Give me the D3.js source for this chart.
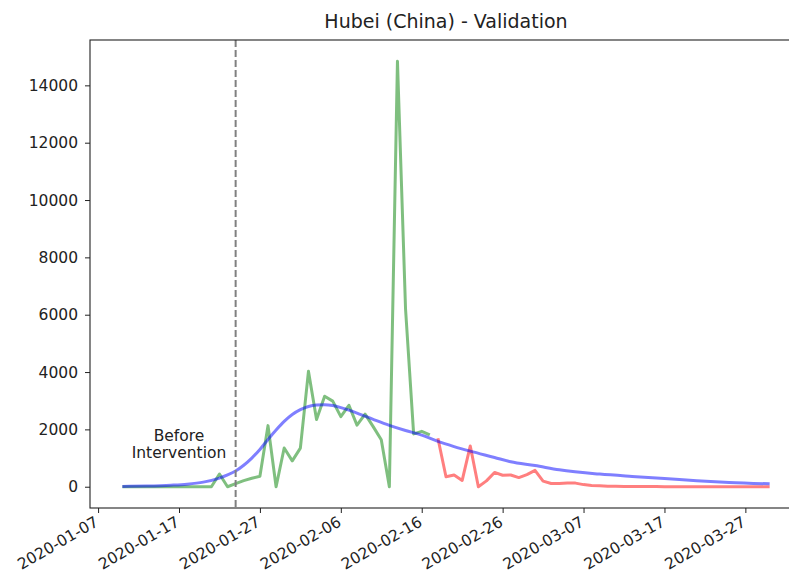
<!DOCTYPE html>
<html>
<head>
<meta charset="utf-8">
<script src="https://cdn.jsdelivr.net/npm/d3@7"></script>
<style>
  body { margin: 0; background: #fff; }
  text { font-family: "DejaVu Sans", sans-serif; fill: #222; }
</style>
</head>
<body>
<div id="chart"></div>
<script>
// Hubei daily new cases, training part (green) and validation part (red)
var trainStart = "2020-01-10";
var trainCases = [0, 0, 0, 0, 0, 0, 0, 0, 0, 0, 0, 0,
  444, 0, 105, 212, 297, 365, 2131, 0, 1349, 903, 1347, 4024, 2345, 3156,
  2987, 2447, 2841, 2147, 2531, 2097, 1638, 0, 14840, 6200, 1843, 1933, 1807];

var validStart = "2020-02-18";
var validCases = [1693, 349, 411, 220, 1422, 0, 203, 499, 401, 409, 318, 423,
  570, 196, 114, 115, 134, 126, 74, 41, 36, 17, 13, 8, 5, 4, 4, 4, 1, 1,
  0, 0, 0, 0, 0, 0, 1, 0, 0, 0, 0, 0];

// model curve (blue)
var modelDates = ["2020-01-10", "2020-01-13", "2020-01-16", "2020-01-18", "2020-01-20",
  "2020-01-22", "2020-01-23", "2020-01-24", "2020-01-25", "2020-01-26", "2020-01-27",
  "2020-01-28", "2020-01-29", "2020-01-30", "2020-01-31", "2020-02-01", "2020-02-02",
  "2020-02-03", "2020-02-04", "2020-02-05", "2020-02-06", "2020-02-07", "2020-02-08",
  "2020-02-10", "2020-02-12", "2020-02-14", "2020-02-16", "2020-02-18", "2020-02-20",
  "2020-02-22", "2020-02-25", "2020-02-27", "2020-03-01", "2020-03-04", "2020-03-09",
  "2020-03-13", "2020-03-17", "2020-03-21", "2020-03-25", "2020-03-30"];
var modelCases = [10, 25, 55, 90, 160,
  300, 410, 550, 750, 1000, 1300,
  1650, 1980, 2280, 2520, 2690, 2800,
  2850, 2860, 2830, 2760, 2670, 2570,
  2350, 2140, 1960, 1800, 1580, 1400,
  1240, 1020, 870, 740, 590, 440,
  360, 290, 210, 150, 100];

var interventionDate = "2020-01-24";
var xTickLabels = ["2020-01-07", "2020-01-17", "2020-01-27", "2020-02-06", "2020-02-16",
  "2020-02-26", "2020-03-07", "2020-03-17", "2020-03-27"];
var yTicks = [0, 2000, 4000, 6000, 8000, 10000, 12000, 14000];

var svgWidth = 789;
var svgHeight = 577;
var plot = { left: 90, top: 40, right: 802, bottom: 508 };

var parseDate = d3.timeParse("%Y-%m-%d");

var svg = d3.select("#chart")
  .append("svg")
  .attr("width", svgWidth)
  .attr("height", svgHeight);

svg.append("rect")
  .attr("width", svgWidth)
  .attr("height", svgHeight)
  .attr("fill", "#fff");

// Step 1: build series
var trainData = trainCases.map((v, i) => ({ date: d3.timeDay.offset(parseDate(trainStart), i), value: v }));
var validData = validCases.map((v, i) => ({ date: d3.timeDay.offset(parseDate(validStart), i), value: v }));
var modelData = modelDates.map((d, i) => ({ date: parseDate(d), value: modelCases[i] }));

// Step 2: scales (matplotlib style 5% margins)
var xTimeScale = d3.scaleTime()
  .domain([parseDate("2020-01-06"), parseDate("2020-04-03")])
  .range([plot.left, plot.right]);

var yLinearScale = d3.scaleLinear()
  .domain([-742, 15582])
  .range([plot.bottom, plot.top]);

// Step 3: axes
var xAxis = d3.axisBottom(xTimeScale)
  .tickValues(xTickLabels.map(parseDate))
  .tickFormat(d3.timeFormat("%Y-%m-%d"))
  .tickSize(5)
  .tickSizeOuter(0);

var yAxis = d3.axisLeft(yLinearScale)
  .tickValues(yTicks)
  .tickFormat(d3.format("d"))
  .tickSize(5)
  .tickPadding(7)
  .tickSizeOuter(0);

var xg = svg.append("g")
  .attr("transform", `translate(0, ${plot.bottom})`)
  .call(xAxis);
xg.select(".domain").remove();
xg.selectAll(".tick line").attr("stroke", "#222");
xg.selectAll(".tick text")
  .attr("x", 0)
  .attr("y", 0)
  .attr("dy", 0)
  .attr("text-anchor", "end")
  .attr("transform", "translate(1, 17) rotate(-30)")
  .style("font-size", "15.5px");

var yg = svg.append("g")
  .attr("transform", `translate(${plot.left}, 0)`)
  .call(yAxis);
yg.select(".domain").remove();
yg.selectAll(".tick line").attr("stroke", "#222");
yg.selectAll(".tick text").style("font-size", "15.5px");

// Step 4: lines
var line = d3.line()
  .x(d => xTimeScale(d.date))
  .y(d => yLinearScale(d.value));

var smooth = d3.line()
  .curve(d3.curveMonotoneX)
  .x(d => xTimeScale(d.date))
  .y(d => yLinearScale(d.value));

svg.append("path")
  .datum(trainData)
  .attr("d", line)
  .attr("fill", "none")
  .attr("stroke", "#008000")
  .attr("stroke-opacity", 0.5)
  .attr("stroke-width", 3)
  .attr("stroke-linejoin", "round");

svg.append("path")
  .datum(validData)
  .attr("d", line)
  .attr("fill", "none")
  .attr("stroke", "#ff0000")
  .attr("stroke-opacity", 0.5)
  .attr("stroke-width", 3)
  .attr("stroke-linejoin", "round");

svg.append("path")
  .datum(modelData)
  .attr("d", smooth)
  .attr("fill", "none")
  .attr("stroke", "#0000ff")
  .attr("stroke-opacity", 0.5)
  .attr("stroke-width", 3);

// intervention marker
var xi = xTimeScale(parseDate(interventionDate));
svg.append("line")
  .attr("x1", xi)
  .attr("x2", xi)
  .attr("y1", plot.top)
  .attr("y2", plot.bottom)
  .attr("stroke", "#808080")
  .attr("stroke-width", 2)
  .attr("stroke-dasharray", "7,3");

var note = svg.append("text")
  .attr("text-anchor", "middle")
  .style("font-size", "15.5px");
note.append("tspan")
  .attr("x", xTimeScale(parseDate("2020-01-17")))
  .attr("y", yLinearScale(1000) - 17.5)
  .text("Before");
note.append("tspan")
  .attr("x", xTimeScale(parseDate("2020-01-17")))
  .attr("y", yLinearScale(1000))
  .text("Intervention");

// frame
svg.append("rect")
  .attr("x", plot.left)
  .attr("y", plot.top)
  .attr("width", plot.right - plot.left)
  .attr("height", plot.bottom - plot.top)
  .attr("fill", "none")
  .attr("stroke", "#222")
  .attr("stroke-width", 1.1);

// title
svg.append("text")
  .attr("x", (plot.left + plot.right) / 2)
  .attr("y", 28)
  .attr("text-anchor", "middle")
  .style("font-size", "19px")
  .text("Hubei (China) - Validation");
</script>
</body>
</html>
